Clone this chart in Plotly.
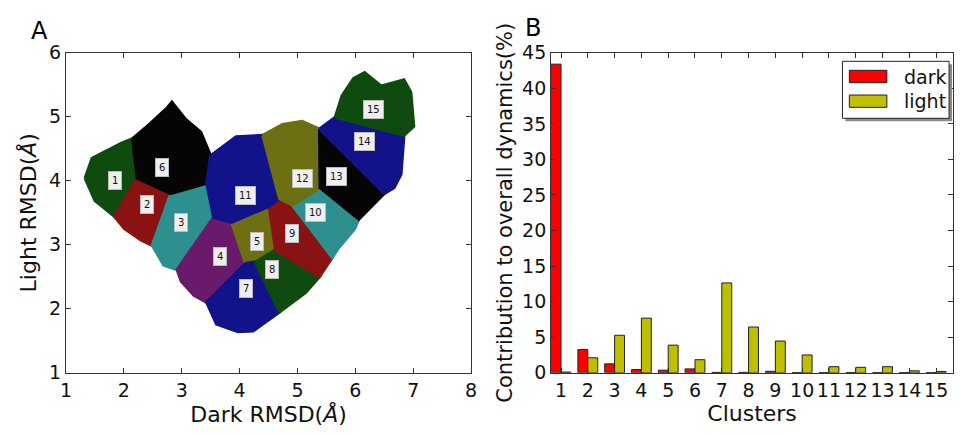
import plotly.graph_objects as go

# ---------- Panel B data ----------
clusters = list(range(1, 16))
dark_pct = [43.4, 3.26, 1.25, 0.45, 0.36, 0.54, 0.05, 0.05, 0.2, 0.02, 0.02, 0.02, 0.02, 0.02, 0.02]
light_pct = [0.1, 2.1, 5.27, 7.68, 3.88, 1.83, 12.63, 6.43, 4.46, 2.5, 0.85, 0.76, 0.85, 0.27, 0.18]
series_names = ["dark", "light"]
series_colors = ["#ff0000", "#bfbf00"]

# ---------- Panel A data: cluster regions (Dark RMSD, Light RMSD) ----------
c1_x = [1.33, 1.45, 1.96, 2.15, 2.23, 1.84, 1.50]
c1_y = [4.04, 4.35, 4.59, 4.66, 4.04, 3.44, 3.69]
c2_x = [2.23, 2.81, 2.49, 2.30, 2.01, 1.84]
c2_y = [4.04, 3.80, 2.99, 3.07, 3.25, 3.44]
c3_x = [2.81, 3.43, 3.55, 2.92, 2.69, 2.49]
c3_y = [3.80, 3.96, 3.43, 2.61, 2.68, 2.99]
c4_x = [3.55, 3.86, 4.10, 3.43, 3.21, 2.99, 2.92]
c4_y = [3.43, 3.35, 2.71, 2.10, 2.21, 2.43, 2.61]
c5_x = [3.86, 4.51, 4.62, 4.27, 4.10]
c5_y = [3.35, 3.60, 2.92, 2.73, 2.71]
c6_x = [2.15, 2.44, 2.75, 2.83, 3.07, 3.33, 3.50, 3.43, 2.81, 2.23]
c6_y = [4.66, 4.88, 5.14, 5.23, 4.96, 4.76, 4.39, 3.96, 3.80, 4.04]
c7_x = [4.10, 4.27, 4.69, 4.45, 4.23, 3.97, 3.60, 3.43]
c7_y = [2.71, 2.73, 1.95, 1.80, 1.65, 1.64, 1.76, 2.10]
c8_x = [4.27, 4.62, 5.38, 5.14, 4.69]
c8_y = [2.73, 2.92, 2.50, 2.25, 1.95]
c9_x = [4.51, 4.69, 4.91, 5.60, 5.38, 4.62]
c9_y = [3.60, 3.72, 3.62, 2.80, 2.50, 2.92]
c10_x = [4.91, 5.39, 6.06, 5.99, 5.71, 5.60]
c10_y = [3.62, 3.89, 3.40, 3.25, 2.95, 2.80]
c11_x = [3.50, 3.94, 4.40, 4.69, 4.51, 3.86, 3.55, 3.43]
c11_y = [4.39, 4.69, 4.71, 3.72, 3.60, 3.35, 3.43, 3.96]
c12_x = [4.40, 4.74, 5.08, 5.38, 5.39, 4.91, 4.69]
c12_y = [4.71, 4.88, 4.93, 4.81, 3.89, 3.62, 3.72]
c13_x = [5.38, 6.50, 6.06, 5.39]
c13_y = [4.81, 3.80, 3.40, 3.89]
c14_x = [5.38, 5.65, 6.84, 6.79, 6.67, 6.50]
c14_y = [4.81, 4.99, 4.71, 4.10, 3.89, 3.80]
c15_x = [5.65, 5.77, 5.97, 6.16, 6.45, 6.84, 6.96, 7.01, 6.84]
c15_y = [4.99, 5.33, 5.60, 5.69, 5.48, 5.58, 5.38, 4.85, 4.71]

region_x = [c1_x, c2_x, c3_x, c4_x, c5_x, c6_x, c7_x, c8_x, c9_x, c10_x, c11_x, c12_x, c13_x, c14_x, c15_x]
region_y = [c1_y, c2_y, c3_y, c4_y, c5_y, c6_y, c7_y, c8_y, c9_y, c10_y, c11_y, c12_y, c13_y, c14_y, c15_y]
region_colors = ["#0f4a0f", "#8a1212", "#2e8f8f", "#6a1a6a", "#6e6e12", "#050505", "#12128a",
                 "#0f4a0f", "#8a1212", "#2e8f8f", "#12128a", "#6e6e12", "#050505", "#12128a", "#0f4a0f"]

label_x = [1.84, 2.40, 2.98, 3.67, 4.30, 2.66, 4.11, 4.56, 4.90, 5.31, 4.11, 5.08, 5.68, 6.16, 6.31]
label_y = [4.01, 3.63, 3.35, 2.82, 3.05, 4.20, 2.31, 2.61, 3.17, 3.51, 3.77, 4.04, 4.07, 4.62, 5.11]

W, H = 961, 435
FONT = "DejaVu Sans"
fig = go.Figure()

for i in range(15):
    fig.add_trace(go.Scatter(
        x=region_x[i] + [region_x[i][0]], y=region_y[i] + [region_y[i][0]],
        mode="lines", fill="toself", fillcolor=region_colors[i],
        line=dict(color=region_colors[i], width=3),
        showlegend=False, hoverinfo="skip", xaxis="x", yaxis="y"))

for name, vals, col in zip(series_names, [dark_pct, light_pct], series_colors):
    fig.add_trace(go.Bar(x=clusters, y=vals, name=name,
                         marker=dict(color=col, line=dict(color="#222222", width=1)),
                         showlegend=False, xaxis="x2", yaxis="y2"))

ann = []
for i in range(15):
    ann.append(dict(x=label_x[i], y=label_y[i], xref="x", yref="y", text=str(i + 1), showarrow=False,
                    font=dict(size=10, color="#111111", family=FONT),
                    bgcolor="#efefef", bordercolor="#bbbbbb", borderwidth=1, borderpad=3))
ann.append(dict(x=34 / W, y=1 - 21 / H, xref="paper", yref="paper", text="A", showarrow=False,
                font=dict(size=24, color="black", family=FONT), xanchor="center", yanchor="middle"))
ann.append(dict(x=534 / W, y=1 - 18 / H, xref="paper", yref="paper", text="B", showarrow=False,
                font=dict(size=24, color="black", family=FONT), xanchor="center", yanchor="middle"))

# manual legend (matplotlib style: wide patches, rounded box with shadow)
def px(xp):
    return xp / W

def py(yp):
    return 1 - yp / H

shapes = []
lx0, lx1, ly0, ly1 = 847, 955, 53, 113
shapes.append(dict(type="rect", xref="paper", yref="paper", x0=px(lx0 + 3), x1=px(lx1 + 3), y0=py(ly1 + 3), y1=py(ly0 + 3),
                   fillcolor="#8a8a8a", line=dict(width=0), layer="above"))
shapes.append(dict(type="rect", xref="paper", yref="paper", x0=px(lx0), x1=px(lx1), y0=py(ly1), y1=py(ly0),
                   fillcolor="white", line=dict(color="#222222", width=1), layer="above"))
for k, (name, col) in enumerate(zip(series_names, series_colors)):
    yc = 69 + 26 * k
    shapes.append(dict(type="rect", xref="paper", yref="paper", x0=px(854), x1=px(892), y0=py(yc + 6.5), y1=py(yc - 6.5),
                       fillcolor=col, line=dict(color="#222222", width=1), layer="above"))
    ann.append(dict(x=px(907), y=py(yc), xref="paper", yref="paper", text=name, showarrow=False,
                    xanchor="left", yanchor="middle", font=dict(size=19, color="#111111", family=FONT)))

axis_common = dict(showline=True, linecolor="#333333", linewidth=1, mirror="ticks", ticks="inside",
                   ticklen=5, tickcolor="#333333", showgrid=False, zeroline=False,
                   tickfont=dict(size=19, color="#111111", family=FONT))

fig.update_layout(
    width=W, height=H, margin=dict(l=0, r=0, t=0, b=0),
    paper_bgcolor="white", plot_bgcolor="white",
    font=dict(family=FONT, color="#111111"),
    barmode="group", bargap=0.26, bargroupgap=0, showlegend=False,
    xaxis=dict(domain=[60.7 / W, 471 / W], range=[1, 8], dtick=1, anchor="y",
               title=dict(text="Dark RMSD(<i>Å</i>)", font=dict(size=22), standoff=4), **axis_common),
    yaxis=dict(domain=[1 - 381 / H, 1 - 44 / H], range=[1, 6], dtick=1, anchor="x",
               title=dict(text="Light RMSD(<i>Å</i>)", font=dict(size=22), standoff=6), **axis_common),
    xaxis2=dict(domain=[552 / W, 959 / W], range=[0.63, 15.63], tickvals=clusters, anchor="y2",
                title=dict(text="Clusters", font=dict(size=22), standoff=0), **axis_common),
    yaxis2=dict(domain=[1 - 381 / H, 1 - 44 / H], range=[0, 45], dtick=5, anchor="x2",
                title=dict(text="Contribution to overall dynamics(%)", font=dict(size=21), standoff=3), **axis_common),
    annotations=ann,
    shapes=shapes,
)

fig.write_html("out.html")
